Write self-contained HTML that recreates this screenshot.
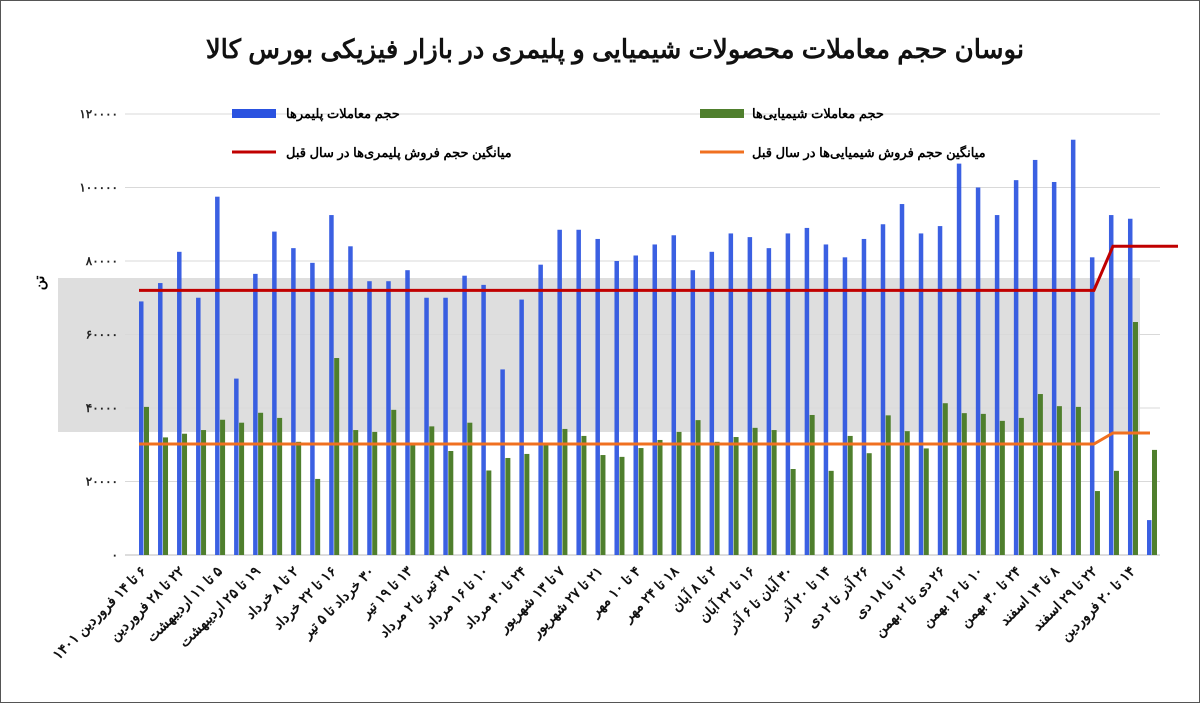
<!DOCTYPE html>
<html><head><meta charset="utf-8">
<style>
html,body{margin:0;padding:0;background:#fff;}
svg{display:block;font-family:"Liberation Sans","Noto Sans CJK SC",sans-serif;}
</style></head>
<body>
<svg id="chart" width="1200" height="703" viewBox="0 0 1200 703">
<rect x="0.5" y="0.5" width="1199" height="702" fill="#fff" stroke="#555" stroke-width="1"/>
<text x="615" y="58" text-anchor="middle" font-size="26" font-weight="bold" fill="#111" direction="rtl">نوسان حجم معاملات محصولات شیمیایی و پلیمری در بازار فیزیکی بورس کالا</text>
<rect x="58" y="278" width="1082" height="154" fill="#dedede"/>
<g id="grid"></g>
<g id="bars"></g>
<g id="lines"></g>
<g id="xlabels"></g>
<text x="44" y="283" font-size="14" font-weight="bold" transform="rotate(-90 44 283)" text-anchor="middle">تن</text>
<g>
<rect x="232" y="109" width="44" height="9" fill="#2a52e0"/>
<text x="286" y="118" text-anchor="end" font-size="13" font-weight="bold" direction="rtl">حجم معاملات پلیمرها</text>
<rect x="700" y="109" width="44" height="9" fill="#4f7f2d"/>
<text x="752" y="118" text-anchor="end" font-size="13" font-weight="bold" direction="rtl">حجم معاملات شیمیایی‌ها</text>
<line x1="232" y1="152" x2="276" y2="152" stroke="#c00000" stroke-width="3"/>
<text x="286" y="157" text-anchor="end" font-size="13" font-weight="bold" direction="rtl">میانگین حجم فروش پلیمری‌ها در سال قبل</text>
<line x1="700" y1="152" x2="744" y2="152" stroke="#f07020" stroke-width="3"/>
<text x="752" y="157" text-anchor="end" font-size="13" font-weight="bold" direction="rtl">میانگین حجم فروش شیمیایی‌ها در سال قبل</text>
</g>
</svg>
<script>
const polymerValues=[69000,74000,82500,70000,97500,48000,76500,88000,83500,79500,92500,84000,74500,74500,77500,70000,70000,76000,73500,50500,69500,79000,88500,88500,86000,80000,81500,84500,87000,77500,82500,87500,86500,83500,87500,89000,84500,81000,86000,90000,95500,87500,89500,106500,100000,92500,102000,107500,101500,113000,81000,92500,91500,9500];
const chemicalValues=[40300,32000,33000,34000,36800,36000,38700,37300,30800,20700,53600,34000,33500,39500,30000,35000,28300,36000,23000,26400,27500,30500,34300,32400,27200,26700,29100,31300,33500,36700,30800,32100,34600,34000,23400,38100,22900,32400,27700,38000,33700,29000,41300,38600,38400,36500,37300,43800,40500,40300,17400,22900,63400,28600];
const polymerAvg=[72000,84000];
const chemicalAvg=[30200,33200];
const avgSwitchIndex=51;
const yTicks=[0,20000,40000,60000,80000,100000,120000];
const yTickLabels=['۰','۲۰۰۰۰','۴۰۰۰۰','۶۰۰۰۰','۸۰۰۰۰','۱۰۰۰۰۰','۱۲۰۰۰۰'];
const xLabels=['۶ تا ۱۴ فروردین ۱۴۰۱','۲۲ تا ۲۸ فروردین','۵ تا ۱۱ اردیبهشت','۱۹ تا ۲۵ اردیبهشت','۲ تا ۸ خرداد','۱۶ تا ۲۲ خرداد','۳۰ خرداد تا ۵ تیر','۱۳ تا ۱۹ تیر','۲۷ تیر تا ۲ مرداد','۱۰ تا ۱۶ مرداد','۲۴ تا ۳۰ مرداد','۷ تا ۱۳ شهریور','۲۱ تا ۲۷ شهریور','۴ تا ۱۰ مهر','۱۸ تا ۲۴ مهر','۲ تا ۸ آبان','۱۶ تا ۲۲ آبان','۳۰ آبان تا ۶ آذر','۱۴ تا ۲۰ آذر','۲۶ آذر تا ۲ دی','۱۲ تا ۱۸ دی','۲۶ دی تا ۲ بهمن','۱۰ تا ۱۶ بهمن','۲۴ تا ۳۰ بهمن','۸ تا ۱۴ اسفند','۲۲ تا ۲۹ اسفند','۱۴ تا ۲۰ فروردین'];

const NS='http://www.w3.org/2000/svg';
const y0=555,yTop=114,yMax=120000;
function yS(v){return y0-(v/yMax)*(y0-yTop);}
const n=polymerValues.length;
const x0=139,step=(1147-139)/(n-1);
function xS(i){return x0+i*step;}
function mk(tag,attrs,parent){const e=document.createElementNS(NS,tag);for(const k in attrs)e.setAttribute(k,attrs[k]);parent.appendChild(e);return e;}

const grid=document.getElementById('grid');
yTicks.forEach((t,i)=>{
  const l=mk('line',{x1:125,x2:1160,y1:yS(t),y2:yS(t),stroke:i===0?'#bbb':'#d9d9d9','stroke-width':1},grid);
  
  
  const tx=mk('text',{x:118,y:yS(t)+4,'text-anchor':'end','font-size':12,'font-weight':'bold',fill:'#222'},grid);
  tx.textContent=yTickLabels[i];
  
  
});

const bars=document.getElementById('bars');
for(let i=0;i<n;i++){
  const b=mk('rect',{x:xS(i),y:yS(polymerValues[i]),width:4.5,height:y0-yS(polymerValues[i]),fill:'#2a52e0',opacity:0.92},bars);
  
  
  const g=mk('rect',{x:xS(i)+5,y:yS(chemicalValues[i]),width:5,height:y0-yS(chemicalValues[i]),fill:'#4f7f2d'},bars);
  
  
}

const lines=document.getElementById('lines');
function avgLine(vals,endX,color,name){
  const xa=xS(avgSwitchIndex-1)+4,xb=xS(avgSwitchIndex)+4;
  const d=`M${xS(0)} ${yS(vals[0])} L${xa} ${yS(vals[0])} L${xb} ${yS(vals[1])} L${endX} ${yS(vals[1])}`;
  const p=mk('path',{d:d,fill:'none',stroke:color,'stroke-width':3},lines);
  
  
}
avgLine(chemicalAvg,xS(n-1)+3,'#f07020','line-chemical-avg');
avgLine(polymerAvg,xS(n-1)+31,'#c00000','line-polymer-avg');

const xl=document.getElementById('xlabels');
xLabels.forEach((s,k)=>{
  const x=xS(k*2)+8,y=572;
  const t=mk('text',{x:x,y:y,'text-anchor':'start',direction:'rtl','font-size':14,'font-weight':'bold',fill:'#111',transform:`rotate(-45 ${x} ${y})`},xl);
  t.textContent=s;
  
  
});
</script>
</body></html>
